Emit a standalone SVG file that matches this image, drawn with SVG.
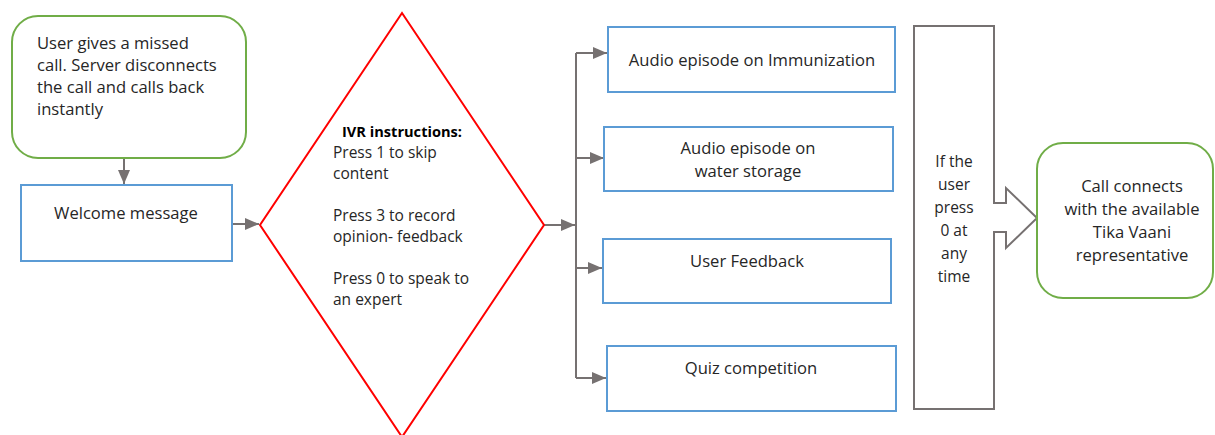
<svg xmlns="http://www.w3.org/2000/svg" width="1215" height="435" viewBox="0 0 1215 435">
<style>
text{font-family:"Open Sans","Liberation Sans",sans-serif;font-size:16.6px;fill:#262626}
.c{text-anchor:middle}
.d{font-size:15.5px}
.green{fill:#fff;stroke:#70AD47;stroke-width:2}
.blue{fill:#fff;stroke:#5B9BD5;stroke-width:2}
.red{fill:#fff;stroke:#FF0000;stroke-width:2}
.grey{fill:#fff;stroke:#767171;stroke-width:2}
.conn{fill:none;stroke:#767171;stroke-width:2}
</style>
<defs>
<marker id="arr" viewBox="0 0 14 12" refX="14" refY="6" markerWidth="7" markerHeight="6" markerUnits="strokeWidth" orient="auto">
<path d="M0,0 L14,6 L0,12 z" fill="#767171"/>
</marker>
</defs>
<rect width="1215" height="435" fill="#fff"/>
<g id="connectors">
<path class="conn" d="M124,158 V184" marker-end="url(#arr)"/>
<path class="conn" d="M232,224 H259" marker-end="url(#arr)"/>
<path class="conn" d="M544,225 H575" marker-end="url(#arr)"/>
<path class="conn" d="M576,53 V378"/>
<path class="conn" d="M576,53 H607" marker-end="url(#arr)"/>
<path class="conn" d="M576,158 H604" marker-end="url(#arr)"/>
<path class="conn" d="M576,268 H602" marker-end="url(#arr)"/>
<path class="conn" d="M576,378 H606" marker-end="url(#arr)"/>
</g>
<g id="start">
<rect class="green" x="12" y="16" width="234" height="142" rx="26"/>
<text x="37" y="49">User gives a missed</text>
<text x="37" y="71">call. Server disconnects</text>
<text x="37" y="93">the call and calls back</text>
<text x="37" y="115">instantly</text>
</g>
<g id="welcome">
<rect class="blue" x="21" y="185" width="211" height="76"/>
<text class="c" x="126" y="219">Welcome message</text>
</g>
<g id="ivr">
<polygon class="red" points="402,13 544,225 402,437 260,225"/>
<text class="c" x="402" y="137" style="font-weight:bold;fill:#000;font-size:14.6px">IVR instructions:</text>
<text class="d" x="333" y="158">Press 1 to skip</text>
<text class="d" x="333" y="179">content</text>
<text class="d" x="333" y="221">Press 3 to record</text>
<text class="d" x="333" y="242">opinion- feedback</text>
<text class="d" x="333" y="284">Press 0 to speak to</text>
<text class="d" x="333" y="305">an expert</text>
</g>
<g id="immunization">
<rect class="blue" x="608" y="27" width="287" height="65"/>
<text class="c" x="752" y="66">Audio episode on Immunization</text>
</g>
<g id="water">
<rect class="blue" x="604" y="127" width="289" height="64"/>
<text class="c" x="748" y="154">Audio episode on</text>
<text class="c" x="748" y="177">water storage</text>
</g>
<g id="feedback">
<rect class="blue" x="603" y="239" width="288" height="64"/>
<text class="c" x="747" y="267">User Feedback</text>
</g>
<g id="quiz">
<rect class="blue" x="607" y="346" width="289" height="65"/>
<text class="c" x="751" y="374">Quiz competition</text>
</g>
<g id="press0">
<path class="grey" d="M914,26 H994 V203 H1006 V188 L1037,218 L1006,248 V232 H994 V409 H914 Z"/>
<text class="c d" x="954" y="167">If the</text>
<text class="c d" x="954" y="190">user</text>
<text class="c d" x="954" y="213">press</text>
<text class="c d" x="954" y="236">0 at</text>
<text class="c d" x="954" y="259">any</text>
<text class="c d" x="954" y="282">time</text>
</g>
<g id="connect">
<rect class="green" x="1037" y="143" width="176" height="155" rx="26"/>
<text class="c" x="1132" y="192">Call connects</text>
<text class="c" x="1132" y="215">with the available</text>
<text class="c" x="1132" y="238">Tika Vaani</text>
<text class="c" x="1132" y="261">representative</text>
</g>
</svg>
